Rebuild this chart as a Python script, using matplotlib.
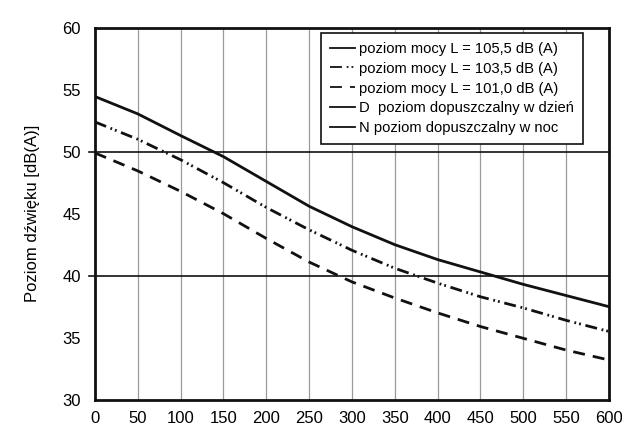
import matplotlib.pyplot as plt

plt.rcParams['font.family'] = ['Liberation Sans', 'DejaVu Sans']
plt.rcParams['lines.scale_dashes'] = False

# odległość [m] i poziom dźwięku [dB(A)]
x = [0, 50, 100, 150, 200, 250, 300, 350, 400, 450, 500, 550, 600]
L105 = [54.45, 53.05, 51.3, 49.6, 47.6, 45.6, 43.95, 42.5, 41.3, 40.3, 39.3, 38.4, 37.5]
L103 = [52.4, 51.0, 49.35, 47.5, 45.5, 43.7, 42.05, 40.6, 39.4, 38.3, 37.4, 36.4, 35.5]
L101 = [49.9, 48.45, 46.8, 45.0, 43.0, 41.1, 39.5, 38.2, 37.0, 35.9, 34.95, 34.0, 33.2]
dzien = 50
noc = 40

labels = ['poziom mocy L = 105,5 dB (A)',
          'poziom mocy L = 103,5 dB (A)',
          'poziom mocy L = 101,0 dB (A)',
          'D  poziom dopuszczalny w dzień',
          'N poziom dopuszczalny w noc']

fig = plt.figure(figsize=(6.22, 4.44), dpi=100)
ax = fig.add_axes([0.1527, 0.0998, 0.8264, 0.8378])

ax.plot(x, L105, color='#111111', lw=2.0, label=labels[0])
ax.plot(x, L103, color='#111111', lw=2.0, dashes=(8.6, 3.4, 1.3, 2.2, 1.3, 3.4),
        label=labels[1])
ax.plot(x, L101, color='#111111', lw=2.0, dashes=(8.6, 5.8), label=labels[2])
ax.axhline(dzien, xmin=-0.012, color='#111111', lw=1.2, clip_on=False, label=labels[3])
ax.axhline(noc, xmin=-0.012, color='#111111', lw=1.2, clip_on=False, label=labels[4])

ax.set_xlim(0, 600)
ax.set_ylim(30, 60)
ax.set_xticks(range(0, 601, 50))
ax.set_yticks(range(30, 61, 5))
ax.xaxis.grid(True, color='#9a9a9a', lw=0.9)
ax.tick_params(axis='y', labelsize=12, length=0, pad=10)
ax.tick_params(axis='x', labelsize=12, length=0, pad=8)
for s in ax.spines.values():
    s.set_linewidth(2.0)
    s.set_color('#111111')
ax.set_ylabel('Poziom dźwięku [dB(A)]', fontsize=12, labelpad=16)

leg = ax.legend(loc='upper right', bbox_to_anchor=(0.949, 0.986), borderaxespad=0,
                fontsize=10.6, frameon=True, fancybox=False, edgecolor='#111111',
                framealpha=1, handlelength=1.7, handletextpad=0.3,
                labelspacing=0.4, borderpad=0.6)
leg.get_frame().set_linewidth(1.2)
for h in leg.get_lines():
    h.set_linewidth(1.3)

fig.savefig('out.png', dpi=100)
